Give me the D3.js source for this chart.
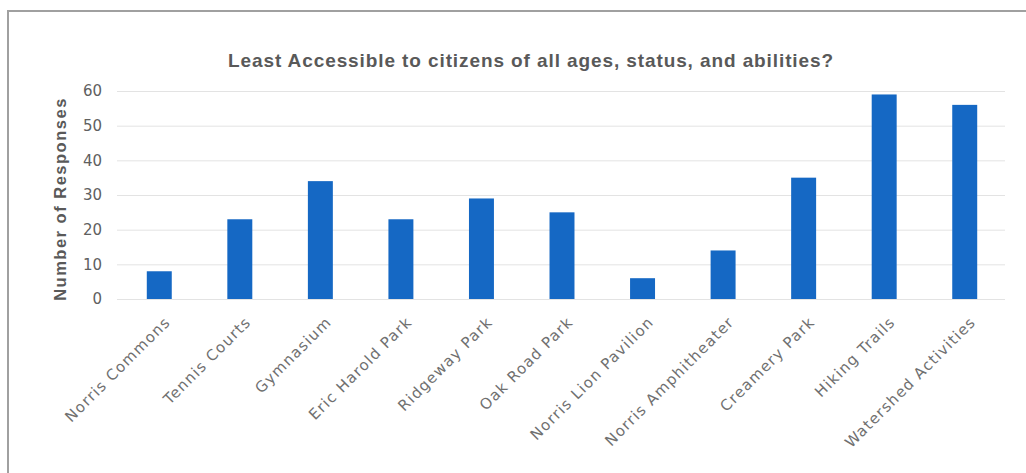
<!DOCTYPE html>
<html>
<head>
<meta charset="utf-8">
<script src="https://cdn.jsdelivr.net/npm/d3@7"></script>
<style>
  html, body { margin: 0; padding: 0; background: #fff; }
  svg { display: block; }
</style>
</head>
<body>
<svg id="chart" width="1026" height="473"></svg>
<script>
const categories = ["Norris Commons", "Tennis Courts", "Gymnasium", "Eric Harold Park", "Ridgeway Park",
  "Oak Road Park", "Norris Lion Pavilion", "Norris Amphitheater", "Creamery Park", "Hiking Trails", "Watershed Activities"];
const responses = [8, 23, 34, 23, 29, 25, 6, 14, 35, 59, 56];
const yTicks = [0, 10, 20, 30, 40, 50, 60];
const title = "Least Accessible to citizens of all ages, status, and abilities?";
const yTitle = "Number of Responses";

const svg = d3.select("#chart");
const W = 1026, H = 473;

// frame (top and left edges visible)
svg.append("path")
  .attr("d", `M8,${H} L8,11 L${W},11`)
  .attr("fill", "none").attr("stroke", "#a0a0a0").attr("stroke-width", 2);

const x = d3.scaleBand().domain(categories).range([119, 1005]).paddingInner(0.69).paddingOuter(0.345);
const y = d3.scaleLinear().domain([0, 60]).range([299, 91]);

// gridlines
const yAxis = d3.axisLeft(y).tickValues(yTicks).tickSize(-(1005 - 117)).tickPadding(15);
const gy = svg.append("g").attr("transform", "translate(117,0)").call(yAxis);
gy.select(".domain").remove();
gy.selectAll(".tick line").attr("stroke", "#e3e3e3").attr("stroke-width", 1);
gy.selectAll(".tick text")
  .attr("fill", "#606060")
  .style("font-family", "'DejaVu Sans', sans-serif")
  .style("font-size", "15px");

// bars
svg.append("g").selectAll("rect").data(categories).join("rect")
  .attr("x", d => x(d))
  .attr("width", x.bandwidth())
  .attr("y", (d, i) => y(responses[i]))
  .attr("height", (d, i) => y(0) - y(responses[i]))
  .attr("fill", "#1568c4");

// x axis labels
const xAxis = d3.axisBottom(x).tickSize(0).tickPadding(0);
const gx = svg.append("g").attr("transform", "translate(0,299)").call(xAxis);
gx.select(".domain").remove();
gx.selectAll(".tick text")
  .attr("text-anchor", "end")
  .attr("fill", "#707070")
  .style("font-family", "'DejaVu Sans', sans-serif")
  .style("font-size", "15px")
  .style("letter-spacing", "1.2px")
  .attr("dy", null).attr("y", null)
  .attr("transform", "translate(12,24) rotate(-45)");

// title
svg.append("text")
  .attr("x", 531).attr("y", 67)
  .attr("text-anchor", "middle")
  .attr("fill", "#595959")
  .style("font-family", "'Liberation Sans', Arial, sans-serif")
  .style("font-weight", "bold")
  .style("font-size", "19px")
  .style("letter-spacing", "0.9px")
  .text(title);

// y title
svg.append("text")
  .attr("transform", "translate(66,199) rotate(-90)")
  .attr("text-anchor", "middle")
  .attr("fill", "#595959")
  .style("font-family", "'Liberation Sans', Arial, sans-serif")
  .style("font-weight", "bold")
  .style("font-size", "16.5px")
  .style("letter-spacing", "1.5px")
  .text(yTitle);
</script>
</body>
</html>
